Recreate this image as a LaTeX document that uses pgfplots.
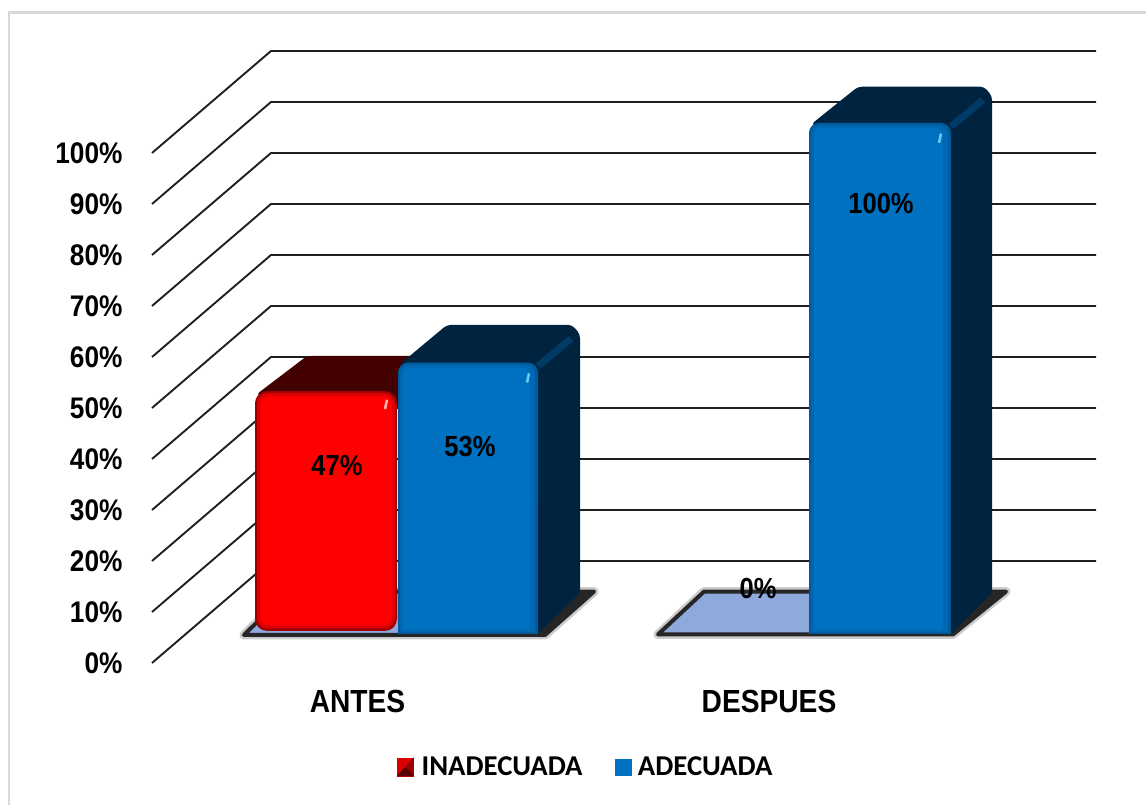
\documentclass[border=0pt]{standalone}
\usepackage{fontspec}
\setmainfont[FakeStretch=0.88]{Liberation Sans}
\newfontfamily\legendfont{Carlito}
\usepackage{pgfplots}
\pgfplotsset{compat=1.18}

\definecolor{bluefront}{HTML}{0070C0}
\definecolor{bluemid}{HTML}{0067B2}
\definecolor{blueedge}{HTML}{005A9C}
\definecolor{bluedark}{HTML}{00243F}
\definecolor{blueridge}{HTML}{003A66}
\definecolor{redmid}{HTML}{DE0000}
\definecolor{rededge}{HTML}{A00000}
\definecolor{reddark}{HTML}{430000}
\definecolor{floorblue}{HTML}{8EA9DB}

% x1 x2 y1 y2 colour radius
\newcommand{\face}[6]{\addplot[fill=#5,draw=none,rounded corners=#6,forget plot]
  coordinates {(#1,#3)(#2,#3)(#2,#4)(#1,#4)} --cycle;}
\newcommand{\floorplate}[1]{%
  \addplot[draw=black,opacity=.2,line width=9pt,line join=round,forget plot] coordinates {#1} --cycle;
  \addplot[draw=black!85,fill=floorblue,line width=4pt,line join=round,forget plot] coordinates {#1} --cycle;}

\begin{document}
\begin{tikzpicture}
  \begin{axis}[
    scale only axis,
    width=1146pt,height=805pt,
    xmin=0,xmax=1146,ymin=-27.843,ymax=130,
    axis line style={draw=none},
    tick style={draw=none},
    major tick length=0pt,
    ytick={0,10,...,100},
    yticklabel={\pgfmathprintnumber{\tick}\%},
    /pgf/number format/assume math mode=true,
    y tick label style={font=\bfseries\fontsize{29.8}{29.8}\selectfont,anchor=east,xshift=126pt},
    xtick={357.5,769},
    xticklabels={ANTES,DESPUES},
    x tick label style={font=\bfseries\fontsize{32}{32}\selectfont,anchor=center,yshift=104pt},
    legend columns=2,
    legend cell align=left,
    legend style={
      draw=none,fill=none,
      at={(axis cs:394,-20.4)},anchor=west,
      font=\legendfont\bfseries\fontsize{28.7}{28.7}\selectfont,
      /tikz/column 1/.style={column sep=6pt},
      /tikz/column 2/.style={column sep=30pt},
      /tikz/column 3/.style={column sep=5pt}}]

    % frame of the chart area, top and left only
    \addplot[draw=black!15,line width=2.5pt,forget plot] coordinates {(9,-27.8)(9,127.5)(1146,127.5)};

    % walls and floor lines
    \addplot[draw=black!88,line width=1.9pt,unbounded coords=jump,forget plot] coordinates {
      (152,0)(271,20)(1096,20) (152,nan)
      (152,10)(271,30)(1096,30) (152,nan)
      (152,20)(271,40)(1096,40) (152,nan)
      (152,30)(271,50)(1096,50) (152,nan)
      (152,40)(271,60)(1096,60) (152,nan)
      (152,50)(271,70)(1096,70) (152,nan)
      (152,60)(271,80)(1096,80) (152,nan)
      (152,70)(271,90)(1096,90) (152,nan)
      (152,80)(271,100)(1096,100) (152,nan)
      (152,90)(271,110)(1096,110) (152,nan)
      (152,100)(271,120)(1096,120)
    };

    % floor plates under each group, dark shadow right of the bars
    \floorplate{(244,5.5)(288,14.0)(594,14.0)(545,5.5)}
    \addplot[fill=black!85,draw=none,forget plot] coordinates {(530,5.5)(580,14.0)(594,14.0)(545,5.5)} --cycle;
    \floorplate{(658,5.6)(704,14.0)(1006,14.0)(953,5.6)}
    \addplot[fill=black!85,draw=none,forget plot] coordinates {(940,5.6)(992,14.0)(1006,14.0)(953,5.6)} --cycle;

    % ANTES, INADECUADA 47
    \addplot[fill=reddark,draw=none,rounded corners=4pt,forget plot] coordinates {(256,52.6)(307,60.2)(430,60.2)(425,50)(390,50)} --cycle;
    \face{255}{397}{6.3}{53.3}{rededge}{12pt}
    \face{257}{395}{6.8}{52.9}{redmid}{11pt}
    \face{260}{392}{7.4}{52.3}{red}{9pt}
    \addplot[draw=white,opacity=.7,line width=2.5pt,forget plot] coordinates {(385,49.8)(387,51.6)};

    % ANTES, ADECUADA 53
    \addplot[fill=bluedark,draw=none,rounded corners=4pt,forget plot] coordinates {(400,58.6)(447,66.3)(572,66.3)(580,64.5)(580,13.7)(538,5.7)(525,5.7)(525,50)} --cycle;
    \addplot[draw=blueridge,line width=7pt,forget plot] coordinates {(538,58.2)(571,63.6)};
    \face{398}{538}{30}{58.9}{blueedge}{10pt}
    \face{398}{538}{5.7}{35}{blueedge}{0pt}
    \face{400}{535}{30}{58.5}{bluemid}{9pt}
    \face{400}{535}{6.1}{35}{bluemid}{0pt}
    \face{403}{530}{30}{57.9}{bluefront}{7pt}
    \face{403}{530}{6.5}{35}{bluefront}{0pt}
    \addplot[draw=cyan!60!white,line width=2.5pt,forget plot] coordinates {(527,55)(529,56.8)};

    % DESPUES, ADECUADA 100
    \addplot[fill=bluedark,draw=none,rounded corners=4pt,forget plot] coordinates {(811,105.6)(858,113)(984,113)(992,111.2)(992,13.7)(951,5.7)(938,5.7)(938,97)} --cycle;
    \addplot[draw=blueridge,line width=7pt,forget plot] coordinates {(951,105.2)(983,110.4)};
    \face{809}{951}{50}{105.9}{blueedge}{10pt}
    \face{809}{951}{5.7}{55}{blueedge}{0pt}
    \face{811}{948}{50}{105.5}{bluemid}{9pt}
    \face{811}{948}{6.1}{55}{bluemid}{0pt}
    \face{814}{943}{50}{104.9}{bluefront}{7pt}
    \face{814}{943}{6.5}{55}{bluefront}{0pt}
    \addplot[draw=cyan!60!white,line width=2.5pt,forget plot] coordinates {(939,102)(941,103.8)};

    % value labels
    \node[font=\bfseries\fontsize{29}{29}\selectfont] at (axis cs:337,38.8) {47\%};
    \node[font=\bfseries\fontsize{29}{29}\selectfont] at (axis cs:470,42.5) {53\%};
    \node[font=\bfseries\fontsize{29}{29}\selectfont] at (axis cs:881,90) {100\%};
    \node[font=\bfseries\fontsize{29}{29}\selectfont] at (axis cs:758,14.7) {0\%};

    \addlegendimage{legend image code/.code={
      \fill[red!85!black] (0pt,-9pt) rectangle (16pt,9pt);
      \fill[red!60!black] (16pt,-9pt) -- (8pt,0pt) -- (16pt,9pt) -- cycle;
      \fill[red!35!black] (0pt,-9pt) -- (8pt,0pt) -- (16pt,-9pt) -- cycle;}}
    \addlegendentry{INADECUADA}
    \addlegendimage{legend image code/.code={
      \fill[bluefront] (0pt,-8pt) rectangle (16pt,8pt);}}
    \addlegendentry{ADECUADA}
  \end{axis}
\end{tikzpicture}
\end{document}
